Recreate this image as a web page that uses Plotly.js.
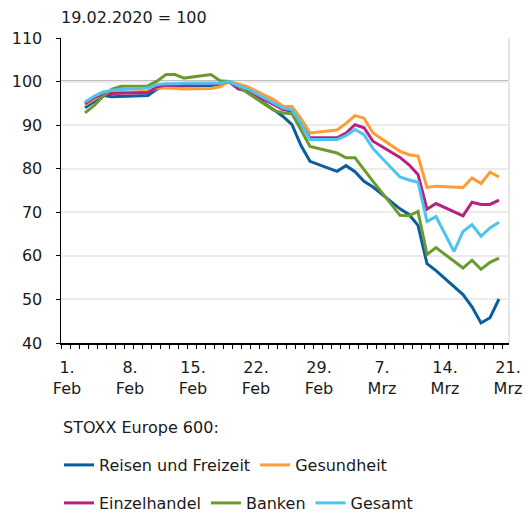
<!DOCTYPE html>
<html>
<head>
<meta charset="utf-8">
<script src="https://cdn.plot.ly/plotly-3.0.1.min.js"></script>
<style>html,body{margin:0;padding:0;background:#fff;}#chart{width:526px;height:513px;}</style>
</head>
<body>
<div id="chart"></div>
<script>
// Trading days (Feb 3 – Mar 20, 2020)
const dates = [
  '2020-02-03','2020-02-04','2020-02-05','2020-02-06','2020-02-07',
  '2020-02-10','2020-02-11','2020-02-12','2020-02-13','2020-02-14',
  '2020-02-17','2020-02-18','2020-02-19','2020-02-20','2020-02-21',
  '2020-02-24','2020-02-25','2020-02-26','2020-02-27','2020-02-28',
  '2020-03-02','2020-03-03','2020-03-04','2020-03-05','2020-03-06',
  '2020-03-09','2020-03-10','2020-03-11','2020-03-12','2020-03-13',
  '2020-03-16','2020-03-17','2020-03-18','2020-03-19','2020-03-20'
];
// Gesamt series as drawn in the reference has an extra point on 15 March
const gesamtDates = [
  '2020-02-03','2020-02-04','2020-02-05','2020-02-06','2020-02-07',
  '2020-02-10','2020-02-11','2020-02-12','2020-02-13','2020-02-14',
  '2020-02-17','2020-02-18','2020-02-19','2020-02-20','2020-02-21',
  '2020-02-24','2020-02-25','2020-02-26','2020-02-27','2020-02-28',
  '2020-03-02','2020-03-03','2020-03-04','2020-03-05','2020-03-06',
  '2020-03-09','2020-03-10','2020-03-11','2020-03-12','2020-03-13',
  '2020-03-15','2020-03-16','2020-03-17','2020-03-18','2020-03-19','2020-03-20'
];

const reisen = [
  94.0, 95.5, 96.8, 96.5, 96.6,
  96.8, 98.3, 99.0, 98.9, 99.0,
  99.1, 99.3, 100, 98.8, 97.7,
  93.5, 92.0, 90.1, 85.3, 81.7,
  79.4, 80.7, 79.3, 77.1, 75.8,
  70.8, 69.5, 67.0, 58.2, 56.6,
  51.1, 48.3, 44.6, 45.8, 50.1
];
const gesundheit = [
  94.6, 95.9, 97.2, 97.5, 97.5,
  97.8, 98.5, 98.6, 98.4, 98.3,
  98.4, 98.8, 100, 99.4, 98.9,
  95.8, 94.3, 94.3, 91.5, 88.2,
  88.9, 90.4, 92.2, 91.6, 88.2,
  84.0, 83.2, 82.9, 75.7, 76.0,
  75.7, 77.9, 76.6, 79.2, 78.1
];
const einzelhandel = [
  94.9, 96.3, 97.2, 97.3, 97.3,
  97.5, 98.8, 99.2, 99.1, 99.2,
  99.3, 99.6, 100, 98.3, 97.8,
  94.7, 93.6, 93.2, 90.1, 87.1,
  87.1, 88.2, 90.1, 89.4, 86.3,
  82.6, 80.9, 78.7, 70.7, 72.0,
  69.2, 72.3, 71.8, 71.8, 72.8
];
const banken = [
  92.8, 94.5, 96.6, 98.3, 98.9,
  99.0, 100.1, 101.6, 101.6, 100.8,
  101.6, 100.2, 100, 99.0, 97.5,
  93.4, 92.8, 92.6, 88.9, 85.1,
  83.6, 82.5, 82.5, 79.8, 77.1,
  69.3, 69.2, 70.2, 60.3, 61.9,
  57.2, 59.0, 56.9, 58.5, 59.5
];
const gesamt = [
  95.3, 96.6, 97.6, 98.0, 98.2,
  98.5, 99.3, 99.5, 99.5, 99.6,
  99.7, 99.6, 100, 99.1, 98.4,
  95.0, 93.9, 93.5, 90.4, 86.7,
  86.7, 87.6, 89.0, 87.8, 84.6,
  78.1, 77.4, 76.9, 67.9, 69.0,
  61.0, 65.6, 67.2, 64.5, 66.4, 67.7
];

const seriesNames = ['Reisen und Freizeit', 'Gesundheit', 'Einzelhandel', 'Banken', 'Gesamt'];
const seriesColors = ['#0a5e9e', '#ff9c33', '#b5237f', '#6a9b2e', '#4dc3f2'];

const tickVals = ['2020-02-01','2020-02-08','2020-02-15','2020-02-22','2020-02-29','2020-03-07','2020-03-14','2020-03-21'];
const tickText = ['1.<br>Feb','8.<br>Feb','15.<br>Feb','22.<br>Feb','29.<br>Feb','7.<br>Mrz','14.<br>Mrz','21.<br>Mrz'];

const baseValue = 100;
const subtitle = '19.02.2020 = ' + baseValue;
const legendHeading = 'STOXX Europe 600:';

const font = {family: 'DejaVu Sans, sans-serif', size: 16, color: '#1a1a1a'};

const xs = [dates, dates, dates, dates, gesamtDates];
const ys = [reisen, gesundheit, einzelhandel, banken, gesamt];
const legendOf = ['legend', 'legend', 'legend2', 'legend2', 'legend2'];

const traces = ys.map((y, i) => ({
  type: 'scatter', mode: 'lines',
  x: xs[i], y: y, name: seriesNames[i],
  line: {color: seriesColors[i], width: 3},
  legend: legendOf[i],
  hoverinfo: 'x+y+name'
}));

const layout = {
  width: 526, height: 513,
  margin: {l: 61, r: 17, t: 38, b: 170, autoexpand: false},
  paper_bgcolor: '#fff', plot_bgcolor: '#fff',
  font: font,
  showlegend: true,
  title: {
    text: subtitle, font: font,
    xref: 'container', x: 61/526, xanchor: 'left',
    yref: 'container', y: 1 - 17/513, yanchor: 'middle'
  },
  xaxis: {
    type: 'date',
    range: ['2020-01-31 08:00', '2020-03-21 02:40'],
    tickmode: 'array', tickvals: tickVals, ticktext: tickText,
    ticks: '', showgrid: false, zeroline: false,
    showline: true, linecolor: '#000', linewidth: 1.5,
    tickfont: font, ticklabelstandoff: 9,
    minor: {
      tickmode: 'linear', tick0: '2020-01-31 08:00', dtick: 86400000,
      ticks: 'outside', ticklen: 4, tickcolor: '#000', tickwidth: 1, showgrid: false
    },
    fixedrange: true
  },
  yaxis: {
    range: [40, 110], dtick: 10, tick0: 40,
    ticks: 'outside', ticklen: 4, tickcolor: '#000',
    showline: true, linecolor: '#000', linewidth: 1.5,
    showgrid: true, gridcolor: '#ebebeb', gridwidth: 2,
    zeroline: false, tickfont: font, ticklabelstandoff: 10,
    fixedrange: true
  },
  shapes: [
    {type: 'line', xref: 'paper', x0: 0, x1: 1, yref: 'y', y0: baseValue, y1: baseValue,
     line: {color: '#000', width: 1.5}, layer: 'below'},
    {type: 'line', xref: 'paper', x0: 1, x1: 1, yref: 'paper', y0: 0, y1: 1,
     line: {color: '#e6e6e6', width: 2}, layer: 'below'}
  ],
  annotations: [
    {text: legendHeading, xref: 'paper', yref: 'paper', x: 0, y: (343 - 427) / 305,
     xanchor: 'left', yanchor: 'middle', showarrow: false, font: font}
  ],
  legend: {
    orientation: 'h', xref: 'container', yref: 'container',
    x: 59/526, y: 1 - 465/513, xanchor: 'left', yanchor: 'middle',
    font: font, bgcolor: 'rgba(0,0,0,0)', traceorder: 'normal'
  },
  legend2: {
    orientation: 'h', xref: 'container', yref: 'container',
    x: 59/526, y: 1 - 503/513, xanchor: 'left', yanchor: 'middle',
    font: font, bgcolor: 'rgba(0,0,0,0)', traceorder: 'normal'
  }
};

Plotly.newPlot('chart', traces, layout, {displayModeBar: false, staticPlot: true});
</script>
</body>
</html>
